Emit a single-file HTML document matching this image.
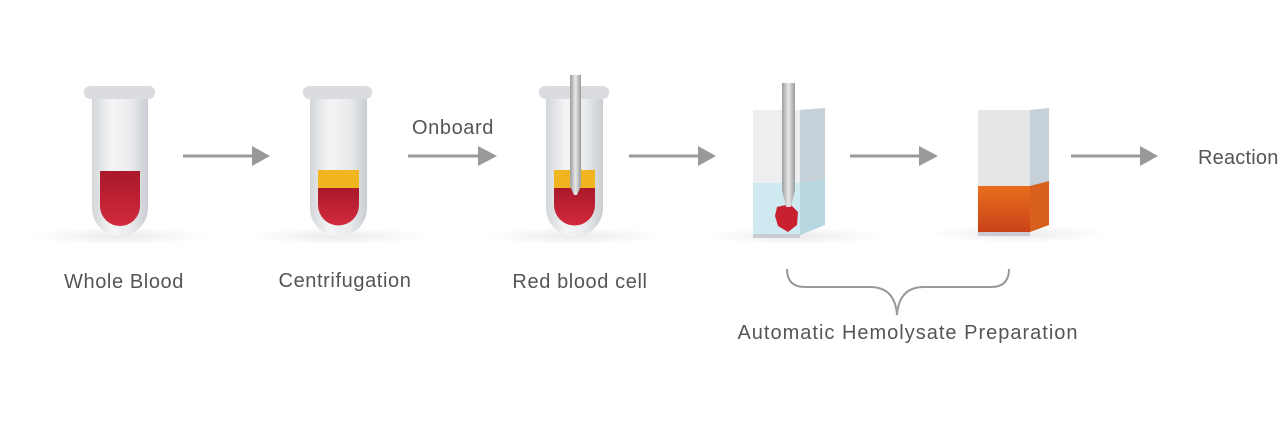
<!DOCTYPE html>
<html><head><meta charset="utf-8"><style>
html,body{margin:0;padding:0;background:#fff;width:1280px;height:440px;overflow:hidden}
text{font-family:"Liberation Sans",sans-serif;font-size:20px;letter-spacing:0.6px;fill:#555}
</style></head><body>
<svg width="1280" height="440" viewBox="0 0 1280 440" xmlns="http://www.w3.org/2000/svg">
<defs>
<linearGradient id="glass" x1="0" x2="1"><stop offset="0" stop-color="#d3d6d9"/><stop offset="0.35" stop-color="#f4f5f6"/><stop offset="0.7" stop-color="#e8eaec"/><stop offset="1" stop-color="#c9cdd1"/></linearGradient>
<linearGradient id="blood" x1="0" y1="0" x2="0" y2="1"><stop offset="0" stop-color="#a8192a"/><stop offset="1" stop-color="#d32a3d"/></linearGradient>
<linearGradient id="orange" x1="0" y1="0" x2="0" y2="1"><stop offset="0" stop-color="#e86e1c"/><stop offset="1" stop-color="#c9421a"/></linearGradient>
<linearGradient id="pip" x1="0" x2="1"><stop offset="0" stop-color="#9c9c9c"/><stop offset="0.5" stop-color="#e8e8e8"/><stop offset="1" stop-color="#9a9a9a"/></linearGradient>
<radialGradient id="shadow"><stop offset="0" stop-color="#000" stop-opacity="0.08"/><stop offset="1" stop-color="#000" stop-opacity="0"/></radialGradient>
</defs>
<ellipse cx="120" cy="236" rx="90" ry="9" fill="url(#shadow)"/>
<ellipse cx="338" cy="236" rx="90" ry="9" fill="url(#shadow)"/>
<ellipse cx="574" cy="236" rx="90" ry="9" fill="url(#shadow)"/>
<ellipse cx="795" cy="236" rx="90" ry="9" fill="url(#shadow)"/>
<ellipse cx="1018" cy="234" rx="90" ry="9" fill="url(#shadow)"/>
<path d="M92 99 V208 A28 28 0 0 0 148 208 V99 Z" fill="url(#glass)"/>
<path d="M100 171 H140 V206 A20 20 0 0 1 100 206 Z" fill="url(#blood)"/>
<rect x="84" y="86" width="71" height="13" rx="6" fill="#dadcdf"/>
<path d="M310 99 V208 A28.5 28.5 0 0 0 367 208 V99 Z" fill="url(#glass)"/>
<rect x="318" y="170" width="41" height="18" fill="#f1b51f"/>
<path d="M318 188 H359 V205 A20.5 20.5 0 0 1 318 205 Z" fill="url(#blood)"/>
<rect x="303" y="86" width="69" height="13" rx="6" fill="#dadcdf"/>
<path d="M546 99 V208 A28.5 28.5 0 0 0 603 208 V99 Z" fill="url(#glass)"/>
<rect x="554" y="170" width="41" height="18" fill="#f1b51f"/>
<path d="M554 188 H595 V205 A20.5 20.5 0 0 1 554 205 Z" fill="url(#blood)"/>
<rect x="539" y="86" width="70" height="13" rx="6" fill="#dadcdf"/>
<path d="M570 75 H581 V186 L577 195 H574 L570 186 Z" fill="url(#pip)"/>
<polygon points="800,110 825,108 825,225 800,235" fill="#c5d0d8"/>
<rect x="753" y="110" width="47" height="125" fill="#eceef0"/>
<rect x="753" y="183" width="47" height="52" fill="#cfe9f0"/>
<polygon points="800,183 825,180 825,225 800,235" fill="#b7d6e0"/>
<rect x="753" y="234" width="47" height="4" fill="#c9cdd1"/>
<path d="M777 207 L790 204 L798 212 L797 225 L788 232 L778 226 L775 216 Z" fill="#c8202f"/>
<path d="M782 83 H795 V190 L791 207 H786 L782 190 Z" fill="url(#pip)"/>
<polygon points="1030,110 1049,108 1049,225 1030,232" fill="#c5d0d8"/>
<rect x="978" y="110" width="52" height="122" fill="#e5e6e7"/>
<rect x="978" y="186" width="52" height="46" fill="url(#orange)"/>
<polygon points="1030,186 1049,181 1049,225 1030,232" fill="#d9601c"/>
<rect x="978" y="232" width="52" height="4" fill="#c9cdd1"/>
<g stroke="#999" stroke-width="3">
<line x1="183" y1="156" x2="254" y2="156"/>
<line x1="408" y1="156" x2="480" y2="156"/>
<line x1="629" y1="156" x2="700" y2="156"/>
<line x1="850" y1="156" x2="921" y2="156"/>
<line x1="1071" y1="156" x2="1142" y2="156"/>
</g>
<g fill="#999">
<polygon points="252,146 270,156 252,166"/>
<polygon points="478,146 497,156 478,166"/>
<polygon points="698,146 716,156 698,166"/>
<polygon points="919,146 938,156 919,166"/>
<polygon points="1140,146 1158,156 1140,166"/>
</g>
<path d="M787 269 Q787 287 805 287 H870 Q895 287 897 315 Q899 287 924 287 H991 Q1009 287 1009 269" fill="none" stroke="#999" stroke-width="2"/>
<text x="124" y="288" text-anchor="middle">Whole Blood</text>
<text x="345" y="287" text-anchor="middle">Centrifugation</text>
<text x="580" y="288" text-anchor="middle">Red blood cell</text>
<text x="453" y="134" text-anchor="middle">Onboard</text>
<text x="1198" y="164" style="letter-spacing:0.2px">Reaction</text>
<text x="908" y="339" text-anchor="middle" style="letter-spacing:1px">Automatic Hemolysate Preparation</text>
</svg>
</body></html>
